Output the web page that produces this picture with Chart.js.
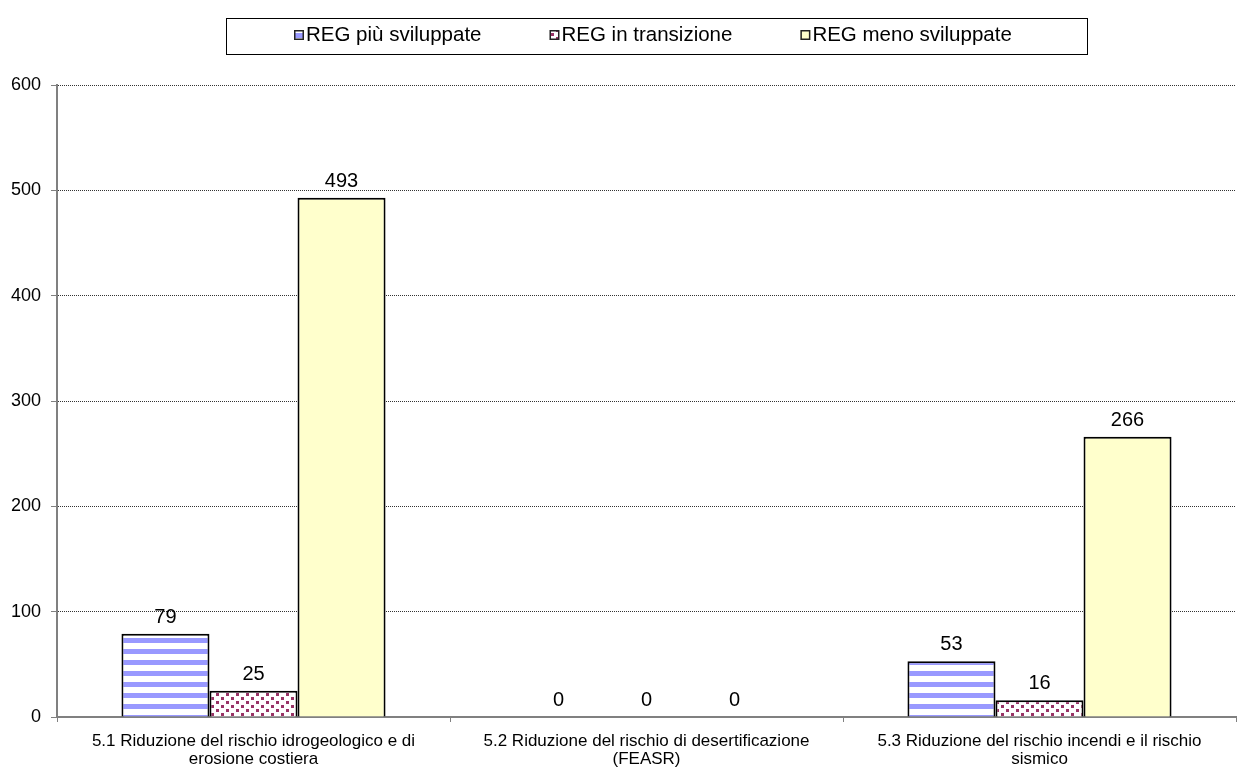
<!DOCTYPE html>
<html>
<head>
<meta charset="utf-8">
<script src="https://cdn.jsdelivr.net/npm/chart.js@4"></script>
<style>
  html, body { margin: 0; padding: 0; background: #fff; }
  #wrap { width: 1237px; height: 769px; }
</style>
</head>
<body>
<div id="wrap"><canvas id="riskChart" width="1237" height="769"></canvas></div>
<script>
const categories = [
    ['5.1 Riduzione del rischio idrogeologico e di', 'erosione costiera'],
    ['5.2 Riduzione del rischio di desertificazione', '(FEASR)'],
    ['5.3 Riduzione del rischio incendi e il rischio', 'sismico']
];
const seriesNames = ['REG più sviluppate', 'REG in transizione', 'REG meno sviluppate'];
const piuSviluppate = [79, 0, 53];
const inTransizione = [25, 0, 16];
const menoSviluppate = [493, 0, 266];

const FONT = '"Liberation Sans", Arial, sans-serif';

// fill patterns like the old office chart
function stripePattern() {
    const c = document.createElement('canvas');
    c.width = 8; c.height = 11;
    const x = c.getContext('2d');
    x.fillStyle = '#ffffff';
    x.fillRect(0, 0, 8, 11);
    x.fillStyle = '#9999ff';
    x.fillRect(0, 0, 8, 5);
    return x.createPattern(c, 'repeat');
}

function dotPattern() {
    const c = document.createElement('canvas');
    c.width = 10; c.height = 8;
    const x = c.getContext('2d');
    x.fillStyle = '#ffffff';
    x.fillRect(0, 0, 10, 8);
    x.fillStyle = '#993366';
    x.fillRect(1, 1, 3, 3);
    x.fillRect(6, 5, 3, 3);
    return x.createPattern(c, 'repeat');
}

const fills = [stripePattern(), dotPattern(), '#ffffcc'];

// value labels above the bars
const valueLabels = {
    id: 'valueLabels',
    afterDatasetsDraw(chart) {
        const ctx = chart.ctx;
        ctx.save();
        ctx.font = '20px ' + FONT;
        ctx.fillStyle = '#000';
        ctx.textAlign = 'center';
        ctx.textBaseline = 'alphabetic';
        chart.data.datasets.forEach((ds, i) => {
            chart.getDatasetMeta(i).data.forEach((bar, j) => {
                ctx.fillText(ds.data[j], bar.x, bar.y - 11);
            });
        });
        ctx.restore();
    }
};

// boxed legend at the top
const boxLegend = {
    id: 'boxLegend',
    afterDraw(chart) {
        const ctx = chart.ctx;
        const box = { x: 226, y: 18, w: 861, h: 36 };
        ctx.save();
        ctx.fillStyle = '#fff';
        ctx.fillRect(box.x, box.y, box.w, box.h);
        ctx.strokeStyle = '#000';
        ctx.lineWidth = 1;
        ctx.strokeRect(box.x + 0.5, box.y + 0.5, box.w, box.h);
        ctx.font = '20.5px ' + FONT;
        ctx.textBaseline = 'middle';
        const mark = 10, gapIn = 2, gapOut = 68;
        const widths = chart.data.datasets.map(ds => mark + gapIn + ctx.measureText(ds.label).width);
        const total = widths.reduce((a, b) => a + b, 0) + gapOut * (widths.length - 1);
        let x = Math.round(652.5 - total / 2);
        const cy = box.y + 17;
        chart.data.datasets.forEach((ds, i) => {
            ctx.fillStyle = ds.backgroundColor;
            ctx.fillRect(x, cy - 5, mark, mark);
            ctx.strokeStyle = '#222';
            ctx.lineWidth = 1.5;
            ctx.strokeRect(x + 0.75, cy - 4.25, mark - 1.5, mark - 1.5);
            ctx.fillStyle = '#000';
            ctx.textAlign = 'left';
            ctx.fillText(ds.label, x + mark + gapIn, cy);
            x += widths[i] + gapOut;
        });
        ctx.restore();
    }
};

const ctx = document.getElementById('riskChart').getContext('2d');
const riskChart = new Chart(ctx, {
    type: 'bar',
    data: {
        labels: categories,
        datasets: [
            { label: seriesNames[0], data: piuSviluppate, backgroundColor: fills[0] },
            { label: seriesNames[1], data: inTransizione, backgroundColor: fills[1] },
            { label: seriesNames[2], data: menoSviluppate, backgroundColor: fills[2] }
        ]
    },
    options: {
        responsive: false,
        animation: false,
        devicePixelRatio: 1,
        layout: { padding: { top: 85, left: 0, right: 1, bottom: 0 } },
        datasets: {
            bar: {
                borderColor: '#000',
                borderWidth: 2,
                categoryPercentage: 0.672,
                barPercentage: 1.0
            }
        },
        plugins: {
            legend: { display: false },
            tooltip: { enabled: false }
        },
        scales: {
            x: {
                afterFit(scale) { scale.height = 52; },
                grid: {
                    offset: true,
                    drawOnChartArea: false,
                    tickLength: 5,
                    tickColor: '#808080'
                },
                border: { color: '#808080', width: 2 },
                ticks: {
                    color: '#000',
                    padding: 10,
                    maxRotation: 0,
                    font: { family: FONT, size: 17, lineHeight: 1.06 }
                }
            },
            y: {
                min: 0,
                max: 600,
                afterFit(scale) { scale.width = 57; },
                grid: {
                    color: '#333',
                    tickLength: 6,
                    tickColor: '#808080'
                },
                border: { color: '#808080', width: 2, dash: [1, 1] },
                ticks: {
                    stepSize: 100,
                    color: '#000',
                    padding: 10,
                    font: { family: FONT, size: 18 }
                }
            }
        }
    },
    plugins: [valueLabels, boxLegend]
});
</script>
</body>
</html>
